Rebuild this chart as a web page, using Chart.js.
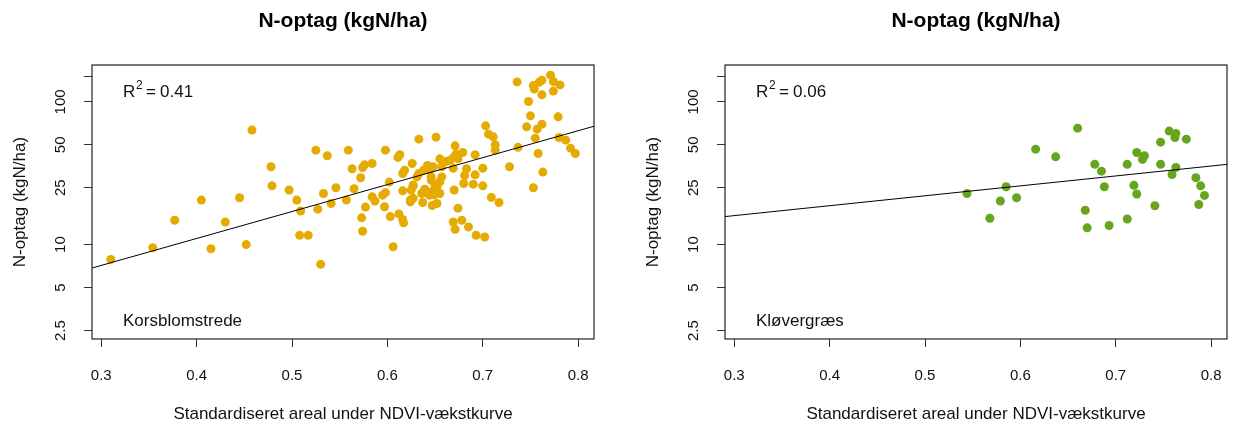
<!DOCTYPE html>
<html>
<head>
<meta charset="utf-8">
<script src="https://cdn.jsdelivr.net/npm/chart.js@4.4.0/dist/chart.umd.min.js"></script>
<style>
  body { margin: 0; background: #fff; }
  #wrap { position: relative; width: 1235px; height: 428px; }
  canvas { position: absolute; top: 0; }
</style>
</head>
<body>
<div id="wrap">
  <canvas id="left" width="602" height="428" style="left:0px"></canvas>
  <canvas id="right" width="602" height="428" style="left:633px"></canvas>
</div>
<script>
// Korsblomstrede
const leftX = [0.310,0.354,0.377,0.405,0.415,0.430,0.445,0.452,0.458,0.478,
  0.479,0.497,0.505,0.509,0.508,0.517,0.525,0.527,0.530,0.533,
  0.537,0.541,0.546,0.557,0.559,0.563,0.565,0.572,0.574,0.576,
  0.584,0.577,0.584,0.587,0.595,0.598,0.597,0.598,0.602,0.611,
  0.613,0.616,0.618,0.616,0.625,0.626,0.633,0.627,0.633,0.638,
  0.642,0.644,0.646,0.648,0.651,0.652,0.655,0.657,0.657,0.662,
  0.666,0.671,0.670,0.672,0.674,0.669,0.679,0.670,0.681,0.683,
  0.680,0.692,0.692,0.690,0.700,0.700,0.703,0.706,0.711,0.713,
  0.713,0.728,0.736,0.737,0.709,0.717,0.674,0.746,0.748,0.750,
  0.753,0.754,0.757,0.755,0.759,0.762,0.762,0.762,0.758,0.763,
  0.753,0.771,0.774,0.774,0.781,0.779,0.780,0.787,0.792,0.797,
  0.637,0.647,0.652,0.655,0.624,0.627,0.636,0.640,0.644,0.645,
  0.627,0.624,0.639,0.649,0.650,0.573,0.574,0.603,0.612,0.616,
  0.617,0.606,0.669,0.671,0.678,0.685,0.693,0.702,0.655,0.631,
  0.646,0.650];
const leftY = [7.87,9.5,14.8,20.5,9.35,14.4,21.3,10.0,63.4,35.1,
  25.8,24.1,20.5,17.2,11.6,11.6,45.9,17.7,7.27,22.8,
  41.9,19.4,25.0,20.5,45.9,34.0,24.6,29.4,34.7,36.2,
  37.0,18.3,21.6,20.2,22.2,23.1,18.4,45.9,27.4,40.8,
  42.6,31.5,33.2,23.8,24.1,37.0,54.8,25.7,31.5,33.2,
  35.8,33.2,29.8,35.1,56.6,25.4,39.9,29.8,35.1,38.3,
  39.1,49.2,41.2,43.0,39.9,34.3,44.2,24.1,30.5,34.0,
  26.8,42.6,30.8,26.5,34.3,25.8,67.9,59.4,56.9,50.0,
  45.9,35.1,138,48.0,21.4,19.7,18.0,66.8,100.6,79.8,
  130,123,64.4,55.7,137,142,112,69.8,43.5,32.2,
  25.0,153.8,139,119,131.5,78.5,56.3,53.9,47.4,43.5,
  19.7,18.8,19.4,22.8,20.5,21.1,22.8,24.1,22.2,23.3,
  26.2,19.9,24.4,22.3,25.7,15.4,12.4,15.7,16.4,15.0,
  14.2,9.66,14.4,12.8,14.8,13.3,11.6,11.3,27.5,29.8,
  28.2,23.4];
const fitLeftX = [0.29, 0.817];
const fitLeftY = [6.84, 67.6];

// Kløvergræs
const rightX = [0.660,0.616,0.637,0.678,0.685,0.712,0.722,0.730,0.728,0.747,
  0.756,0.763,0.762,0.774,0.747,0.763,0.759,0.784,0.789,0.793,
  0.787,0.719,0.722,0.688,0.741,0.668,0.712,0.585,0.596,0.579,
  0.544,0.568,0.670,0.693];
const rightY = [65.4,46.6,41.2,36.5,32.7,36.5,44.2,41.9,39.5,52.2,
  62.4,60.1,56.3,54.8,36.5,34.7,31.0,29.4,25.8,22.1,
  19.1,26.0,22.6,25.4,18.7,17.4,15.1,25.4,21.3,20.2,
  22.8,15.3,13.1,13.6];
const fitRightX = [0.29, 0.817];
const fitRightY = [15.7, 36.5];

const xTicks = [0.3, 0.4, 0.5, 0.6, 0.7, 0.8];
const yTicks = [2.5, 5, 10, 25, 50, 100, 150];
const yTickLabels = ['2.5', '5', '10', '25', '50', '100', ''];

const FONT = '"Liberation Sans", Arial, sans-serif';
const TXT = '#111';

// box, rotated y labels and panel texts, R style
const rStyle = {
  id: 'rStyle',
  afterDraw(chart, args, opts) {
    const ctx = chart.ctx, a = chart.chartArea, y = chart.scales.y;
    ctx.save();
    ctx.strokeStyle = '#222';
    ctx.lineWidth = 1.2;
    ctx.strokeRect(Math.round(a.left), Math.round(a.top), Math.round(a.right - a.left), Math.round(a.bottom - a.top));

    ctx.fillStyle = TXT;
    ctx.font = '15px ' + FONT;
    ctx.textAlign = 'center';
    ctx.textBaseline = 'middle';
    yTicks.forEach((v, i) => {
      if (!yTickLabels[i]) return;
      ctx.save();
      ctx.translate(a.left - 31, y.getPixelForValue(v));
      ctx.rotate(-Math.PI / 2);
      ctx.fillText(yTickLabels[i], 0, 0);
      ctx.restore();
    });

    ctx.textAlign = 'left';
    ctx.textBaseline = 'alphabetic';
    const bx = a.left + 31, by = a.top + 32;
    ctx.font = '17px ' + FONT;
    ctx.fillText('R', bx, by);
    ctx.font = '12px ' + FONT;
    ctx.fillText('2', bx + 13, by - 8);
    ctx.font = '17px ' + FONT;
    ctx.fillText('=', bx + 23, by);
    ctx.fillText(opts.r2, bx + 37, by);
    ctx.fillText(opts.label, bx, a.bottom - 13);
    ctx.restore();
  }
};

function makePanel(id, xs, ys, fx, fy, color, r2, label) {
  new Chart(document.getElementById(id), {
    type: 'scatter',
    data: {
      datasets: [
        {
          type: 'line',
          data: fx.map((v, i) => ({x: v, y: fy[i]})),
          borderColor: '#000',
          borderWidth: 1,
          pointRadius: 0,
          fill: false
        },
        {
          data: xs.map((v, i) => ({x: v, y: ys[i]})),
          backgroundColor: color,
          borderWidth: 0,
          pointRadius: 4.5
        }
      ]
    },
    options: {
      responsive: false,
      animation: false,
      devicePixelRatio: 1,
      layout: { padding: { left: 0, right: 8, top: 0, bottom: 0 } },
      plugins: {
        legend: { display: false },
        tooltip: { enabled: false },
        title: {
          display: true,
          fullSize: false,
          text: 'N-optag (kgN/ha)',
          color: '#000',
          font: { family: FONT, size: 21, weight: 'bold' },
          padding: { top: 9, bottom: 31 }
        },
        rStyle: { r2: r2, label: label }
      },
      scales: {
        x: {
          type: 'linear',
          min: 0.2903,
          max: 0.8166,
          afterBuildTicks: s => { s.ticks = xTicks.map(v => ({value: v})); },
          afterFit: s => { s.height = 89; s.paddingLeft = 0; s.paddingRight = 0; },
          grid: { drawOnChartArea: false, drawTicks: true, tickLength: 8, color: '#333' },
          border: { display: false },
          ticks: {
            autoSkip: false,
            maxRotation: 0,
            padding: 20,
            color: TXT,
            font: { family: FONT, size: 15 },
            callback: v => v.toFixed(1)
          },
          title: {
            display: true,
            text: 'Standardiseret areal under NDVI-vækstkurve',
            color: TXT,
            font: { family: FONT, size: 17 },
            padding: { top: 0, bottom: 3 }
          }
        },
        y: {
          type: 'logarithmic',
          min: 2.179,
          max: 180.7,
          afterBuildTicks: s => { s.ticks = yTicks.map(v => ({value: v})); },
          afterFit: s => { s.width = 92; s.paddingTop = 0; s.paddingBottom = 0; },
          grid: { drawOnChartArea: false, drawTicks: true, tickLength: 8, color: '#333' },
          border: { display: false },
          ticks: { autoSkip: false, color: 'rgba(0,0,0,0)', callback: () => '' },
          title: {
            display: true,
            text: 'N-optag (kgN/ha)',
            color: TXT,
            font: { family: FONT, size: 17 },
            padding: { top: 10, bottom: 0 }
          }
        }
      }
    },
    plugins: [rStyle]
  });
}

makePanel('left', leftX, leftY, fitLeftX, fitLeftY, '#E6AB02', '0.41', 'Korsblomstrede');
makePanel('right', rightX, rightY, fitRightX, fitRightY, '#66A61E', '0.06', 'Kløvergræs');
</script>
</body>
</html>
